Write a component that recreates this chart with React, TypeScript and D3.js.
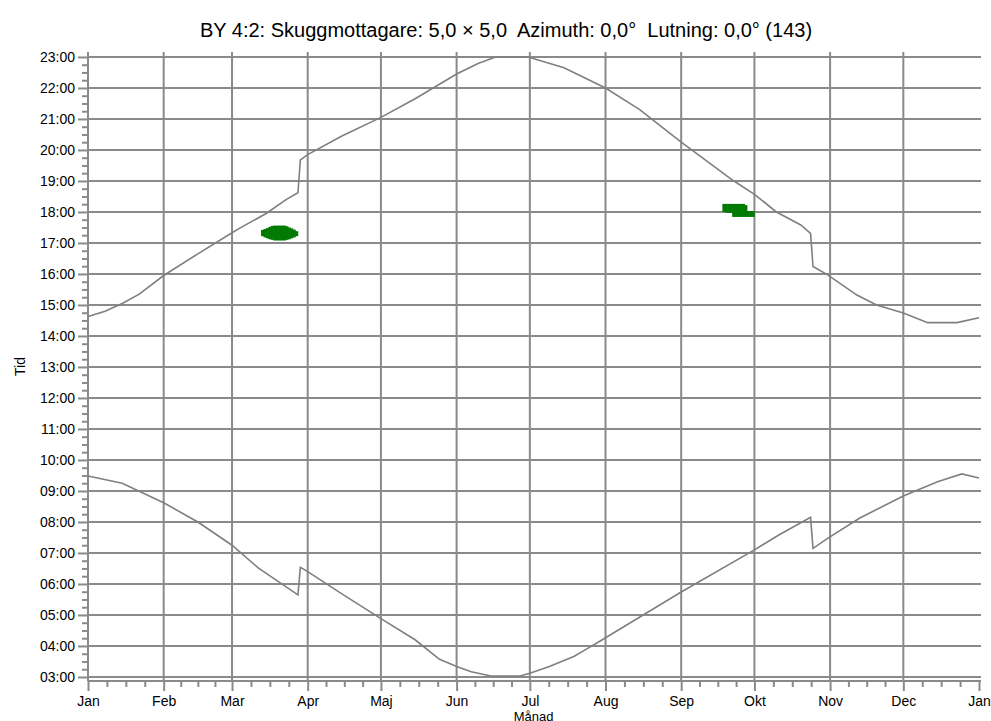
import * as d3 from "d3";
import { useEffect, useRef } from "react";

// sunset-ish curve, [day of year, hour]
const upperCurve: [number, number][] = [
  [0, 14.63], [7, 14.8], [14, 15.05], [21, 15.35], [31, 15.95], [45, 16.65],
  [59, 17.33], [62, 17.47], [73, 17.95], [81, 18.39], [86, 18.62], [87, 19.68],
  [90, 19.85], [104, 20.45], [120, 21.05], [134, 21.65], [151, 22.45], [160, 22.8],
  [167, 23.0], [180, 23.0], [181, 22.98], [195, 22.65], [212, 22.0], [226, 21.3],
  [243, 20.25], [257, 19.44], [264, 19.03], [273, 18.57], [282, 18.0], [292, 17.58],
  [296, 17.31], [297, 16.24], [303, 15.97], [315, 15.32], [323, 15.0], [334, 14.74],
  [344, 14.43], [356, 14.43], [365, 14.59],
];

// sunrise-ish curve
const lowerCurve: [number, number][] = [
  [0, 9.48], [14, 9.25], [31, 8.62], [45, 8.0], [59, 7.25], [70, 6.5],
  [86, 5.65], [87, 6.54], [90, 6.4], [104, 5.68], [120, 4.88], [134, 4.2],
  [144, 3.57], [151, 3.34], [157, 3.17], [165, 3.03], [177, 3.03], [181, 3.12],
  [189, 3.34], [199, 3.66], [204, 3.89], [210, 4.17], [243, 5.74], [273, 7.1],
  [283, 7.58], [296, 8.15], [297, 7.15], [303, 7.47], [316, 8.12], [334, 8.84],
  [348, 9.3], [358, 9.55], [365, 9.42],
];

// shadow cells: [day, from hour, to hour]
const shadowCells: [number, number, number][] = [
  [71, 17.22, 17.42], [72, 17.18, 17.45], [73, 17.15, 17.48], [74, 17.12, 17.52],
  [75, 17.1, 17.55], [76, 17.08, 17.56], [77, 17.08, 17.56], [78, 17.08, 17.56],
  [79, 17.08, 17.56], [80, 17.08, 17.56], [81, 17.1, 17.54], [82, 17.12, 17.5],
  [83, 17.15, 17.47], [84, 17.18, 17.43], [85, 17.22, 17.38],
  [260, 18.0, 18.26], [261, 17.98, 18.26], [262, 17.97, 18.26], [263, 17.97, 18.26],
  [264, 17.84, 18.26], [265, 17.84, 18.26], [266, 17.84, 18.26], [267, 17.84, 18.26],
  [268, 17.84, 18.26], [269, 17.84, 18.22], [270, 17.84, 18.03], [271, 17.84, 18.03],
  [272, 17.84, 18.03],
];

const monthStarts = [0, 31, 59, 90, 120, 151, 181, 212, 243, 273, 304, 334, 365];
const monthLabels = ["Jan", "Feb", "Mar", "Apr", "Maj", "Jun", "Jul", "Aug", "Sep", "Okt", "Nov", "Dec", "Jan"];
const hourTicks = d3.range(3, 24);

const title = "BY 4:2: Skuggmottagare: 5,0 × 5,0  Azimuth: 0,0°  Lutning: 0,0° (143)";

const W = 991;
const H = 721;
const margin = { top: 52, right: 12, bottom: 40, left: 88 };
const font = "'Liberation Sans', Arial, sans-serif";
const gridColor = "#8a8a8a";

const App = () => {
  const ref = useRef<SVGSVGElement>(null);

  useEffect(() => {
    const svg = d3.select(ref.current);
    svg.selectAll("*").remove();

    const left = margin.left;
    const right = W - margin.right;
    const top = margin.top;
    const bottom = H - margin.bottom;

    const x = d3.scaleLinear().domain([0, 365]).range([left, right]);
    const y = d3.scaleLinear().domain([2.87, 23.16]).range([bottom, top]);

    svg.append("rect").attr("width", W).attr("height", H).attr("fill", "#fff");

    // grid
    svg.append("g")
      .selectAll("line")
      .data(hourTicks)
      .enter()
      .append("line")
      .attr("x1", left)
      .attr("x2", right + 2)
      .attr("y1", d => y(d))
      .attr("y2", d => y(d))
      .attr("stroke", gridColor)
      .attr("stroke-width", 2);

    svg.append("g")
      .selectAll("line")
      .data(monthStarts.slice(1, -1))
      .enter()
      .append("line")
      .attr("x1", d => x(d))
      .attr("x2", d => x(d))
      .attr("y1", top)
      .attr("y2", bottom)
      .attr("stroke", gridColor)
      .attr("stroke-width", 2);

    // minor ticks
    const minorX: number[] = [];
    for (let i = 0; i < monthStarts.length - 1; i++) {
      const a = monthStarts[i];
      const b = monthStarts[i + 1];
      for (let k = 1; k < 4; k++) minorX.push(a + ((b - a) * k) / 4);
    }
    const minorY: number[] = [];
    hourTicks.slice(0, -1).forEach(h => {
      for (let k = 1; k < 4; k++) minorY.push(h + k / 4);
    });

    const styleAxis = (g: any) => {
      g.select(".domain").remove();
      g.selectAll(".tick line").attr("stroke", gridColor).attr("stroke-width", 2);
      g.selectAll("text").attr("font-family", font).attr("font-size", 14).attr("fill", "#000");
    };

    svg.append("g")
      .attr("transform", `translate(${left},0)`)
      .call(d3.axisLeft(y).tickValues(minorY).tickSize(6).tickFormat(() => ""))
      .call(styleAxis);

    svg.append("g")
      .attr("transform", `translate(${left},0)`)
      .call(d3.axisLeft(y).tickValues(hourTicks).tickSize(10).tickPadding(3)
        .tickFormat(d => `${String(d).padStart(2, "0")}:00`))
      .call(styleAxis);

    svg.append("g")
      .attr("transform", `translate(0,${bottom})`)
      .call(d3.axisBottom(x).tickValues(minorX).tickSize(6).tickFormat(() => ""))
      .call(styleAxis);

    svg.append("g")
      .attr("transform", `translate(0,${bottom})`)
      .call(d3.axisBottom(x).tickValues(monthStarts).tickSize(10).tickPadding(5)
        .tickFormat((d, i) => monthLabels[i]))
      .call(styleAxis);

    // axis lines
    svg.append("line")
      .attr("x1", left).attr("x2", left).attr("y1", top).attr("y2", bottom)
      .attr("stroke", gridColor).attr("stroke-width", 2);
    svg.append("line")
      .attr("x1", left).attr("x2", right + 2).attr("y1", bottom).attr("y2", bottom)
      .attr("stroke", gridColor).attr("stroke-width", 2);

    // curves
    const line = d3.line<[number, number]>().x(d => x(d[0])).y(d => y(d[1]));
    [upperCurve, lowerCurve].forEach(c => {
      svg.append("path")
        .attr("d", line(c))
        .attr("fill", "none")
        .attr("stroke", "#7f7f7f")
        .attr("stroke-width", 1.6);
    });

    // shadow
    svg.append("g")
      .selectAll("rect")
      .data(shadowCells)
      .enter()
      .append("rect")
      .attr("x", d => x(d[0]) - 0.3)
      .attr("width", x(1) - x(0) + 0.6)
      .attr("y", d => y(d[2]))
      .attr("height", d => y(d[1]) - y(d[2]))
      .attr("fill", "#007a00");

    // titles
    svg.append("text")
      .attr("x", 506).attr("y", 37)
      .attr("text-anchor", "middle")
      .attr("font-family", font).attr("font-size", 20)
      .style("white-space", "pre")
      .text(title);

    svg.append("text")
      .attr("transform", `translate(25,${(top + bottom) / 2}) rotate(-90)`)
      .attr("text-anchor", "middle")
      .attr("font-family", font).attr("font-size", 14)
      .text("Tid");

    svg.append("text")
      .attr("x", (left + right) / 2).attr("y", 721)
      .attr("text-anchor", "middle")
      .attr("font-family", font).attr("font-size", 13)
      .text("Månad");
  }, []);

  return (
    <svg ref={ref} width={W} height={H} style={{ position: "absolute", left: 0, top: 0 }}></svg>
  );
};

export default App;
